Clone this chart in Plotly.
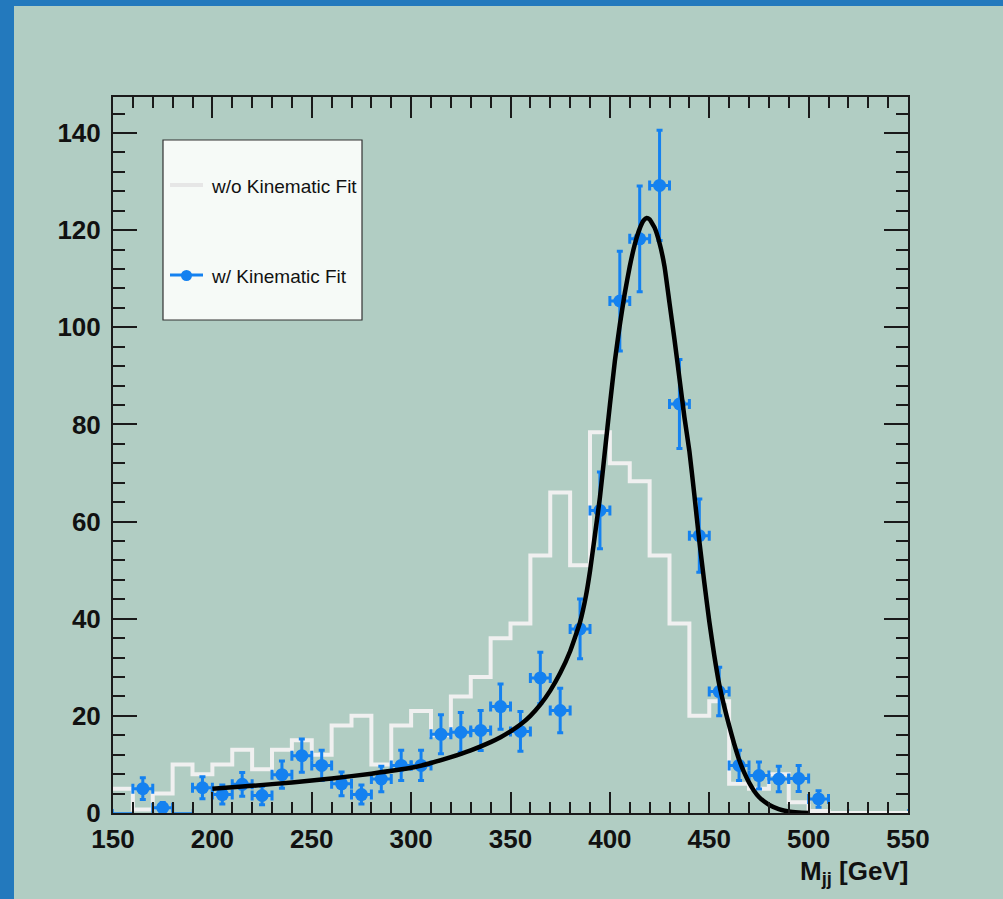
import numpy as np
import plotly.graph_objects as go

# ---- histogram binning (10 GeV bins, 150-550 GeV) ----
bin_edges = list(range(150, 560, 10))
bin_centers = [e + 5 for e in bin_edges[:-1]]

# Mjj without kinematic fit (white step histogram)
no_fit_counts = [5, 0.7, 4, 10, 8, 10, 13, 9, 13, 15,
                 12, 18, 20, 10, 18, 21, 16, 24, 28, 36,
                 39, 53, 66, 51, 78.4, 72, 68.3, 53, 39, 20,
                 23, 6, 5, 8, 2.2, 0.4, 0, 0, 0, 0]

# Mjj with kinematic fit (blue points)
with_fit_counts = [0, 5.0, 1.1, 0, 5.2, 3.8, 5.9, 3.6, 7.9, 11.8,
                   9.8, 6.0, 3.8, 7.0, 9.8, 9.8, 16.2, 16.6, 17.0, 21.9,
                   16.8, 27.8, 21.1, 37.9, 62.3, 105.4, 118.2, 129.2, 84.2, 57.1,
                   25.0, 9.8, 7.7, 7.0, 7.1, 2.9, 0, 0, 0, 0]

# fitted line shape, sampled along the curve
fit_x = [200, 220, 240, 260, 280, 300, 310, 320, 330, 340,
         345, 350, 355, 360, 365, 370, 375, 380, 385, 388,
         390, 392.5, 395, 397.5, 400, 402.5, 405, 407.5, 410, 412.5,
         415, 417, 418.5, 420, 422.5, 425, 427.5, 430, 432.5, 435,
         437.5, 440, 442.5, 445, 447.5, 450, 452.5, 455, 457.5, 460,
         462.5, 465, 467.5, 470, 472.5, 475, 477.5, 480, 485, 490,
         495, 500]
fit_y = [5.0, 5.6, 6.3, 7.1, 8.1, 9.3, 10.3, 11.5, 12.9, 14.6,
         15.6, 16.8, 18.2, 20.0, 22.3, 25.2, 28.8, 33.3, 39.3, 44.8,
         49.8, 57.3, 65.0, 74.5, 84.0, 93.0, 100.5, 107.0, 112.5, 117.0,
         120.3, 122.0, 122.5, 122.2, 120.5, 117.3, 112.5, 105.0, 97.5, 89.5,
         81.5, 74.5, 65.5, 56.0, 47.5, 39.5, 32.5, 26.5, 22.0, 18.0,
         14.3, 11.0, 8.4, 6.3, 4.6, 3.3, 2.4, 1.7, 0.8, 0.3,
         0.1, 0]

legend_labels = ["w/o Kinematic Fit", "w/ Kinematic Fit"]

BLUE = "#1481f0"
WHITE_LINE = "#f0f0f0"
PANEL = "#b1cdc3"
AXIS_COL = "#1a1a1a"
FONT = "Liberation Sans, Arial, sans-serif"

fig = go.Figure()

cx = np.array(bin_centers, dtype=float)
cy = np.array(with_fit_counts, dtype=float)
filled = cy > 0

# empty bins: bin-width bars at zero, mostly hidden under the axis / histogram line
fig.add_trace(go.Scatter(x=cx[~filled], y=cy[~filled], mode="markers",
                         marker=dict(color="rgba(0,0,0,0)", size=1),
                         error_x=dict(type="constant", value=5, color=BLUE,
                                      thickness=1.5, width=4),
                         hoverinfo="skip", showlegend=False, cliponaxis=False))

# step histogram: each bin drawn flat across its width
step_x = bin_edges[:-1] + [bin_edges[-1]]
step_y = no_fit_counts + [no_fit_counts[-1]]
fig.add_trace(go.Scatter(x=step_x, y=step_y, mode="lines",
                         line=dict(color=WHITE_LINE, width=4, shape="hv"),
                         hoverinfo="skip", showlegend=False))

# filled bins: Poisson errors
fig.add_trace(go.Scatter(x=cx[filled], y=cy[filled], mode="markers",
                         marker=dict(color=BLUE, size=13, symbol="circle"),
                         error_y=dict(type="data", array=np.sqrt(cy[filled]),
                                      color=BLUE, thickness=3, width=3),
                         error_x=dict(type="constant", value=5, color=BLUE,
                                      thickness=3, width=5),
                         showlegend=False))

fig.add_trace(go.Scatter(x=fit_x, y=fit_y, mode="lines",
                         line=dict(color="black", width=4.5, shape="spline", smoothing=0.4),
                         hoverinfo="skip", showlegend=False))

# plot area: x 113..908, y 97..813 px
ML, MR, MT, MB = 113, 95, 97, 86
PW = 1003 - ML - MR
PH = 899 - MT - MB


def px(xp):
    return (xp - ML) / PW


def py(yp):
    return (899 - MB - yp) / PH


shapes = [
    # light panel over the blue page
    dict(type="rect", xref="paper", yref="paper", x0=px(14), x1=px(1010),
         y0=py(910), y1=py(6), fillcolor=PANEL, line=dict(width=0), layer="below"),
    # legend box
    dict(type="rect", xref="paper", yref="paper", x0=px(163), x1=px(362),
         y0=py(320), y1=py(140), fillcolor="#f6faf7",
         line=dict(color="#333333", width=1.2), layer="above"),
    dict(type="line", xref="paper", yref="paper", x0=px(170), x1=px(203),
         y0=py(185), y1=py(185), line=dict(color="#e6e6e6", width=4)),
    dict(type="line", xref="paper", yref="paper", x0=px(170), x1=px(203),
         y0=py(275), y1=py(275), line=dict(color=BLUE, width=3)),
    dict(type="circle", xref="paper", yref="paper", x0=px(181), x1=px(192),
         y0=py(281), y1=py(270), fillcolor=BLUE, line=dict(width=0)),
]

annotations = [
    dict(text=legend_labels[0], xref="paper", yref="paper", x=px(209), y=py(186),
         xanchor="left", yanchor="middle", showarrow=False,
         font=dict(family=FONT, size=19, color="#111111")),
    dict(text=legend_labels[1], xref="paper", yref="paper", x=px(209), y=py(276),
         xanchor="left", yanchor="middle", showarrow=False,
         font=dict(family=FONT, size=19, color="#111111")),
    dict(text="<b>M<sub>jj</sub> [GeV]</b>", xref="paper", yref="paper",
         x=px(910), y=py(854), xanchor="right", yanchor="top", showarrow=False,
         font=dict(family=FONT, size=26, color="#111111")),
]

fig.update_layout(
    width=1003, height=899,
    margin=dict(l=ML, r=MR, t=MT, b=MB, pad=0),
    paper_bgcolor="#2379bd",
    plot_bgcolor=PANEL,
    shapes=shapes,
    annotations=annotations,
    showlegend=False,
)

tick_font = dict(family=FONT, size=26, color="#111111", weight="bold")

fig.update_xaxes(
    range=[150, 550], tickmode="linear", tick0=150, dtick=50,
    ticks="inside", ticklen=21, tickwidth=1.5, tickcolor=AXIS_COL,
    minor=dict(dtick=10, ticks="inside", ticklen=11, tickwidth=1.5, tickcolor=AXIS_COL),
    showline=True, linecolor=AXIS_COL, linewidth=2, mirror="allticks",
    showgrid=False, zeroline=False, tickfont=tick_font, ticklabelstandoff=2,
)
fig.update_yaxes(
    range=[0, 147.4], tickmode="linear", tick0=0, dtick=20,
    ticks="inside", ticklen=24, tickwidth=1.5, tickcolor=AXIS_COL,
    minor=dict(dtick=4, ticks="inside", ticklen=12, tickwidth=1.5, tickcolor=AXIS_COL),
    showline=True, linecolor=AXIS_COL, linewidth=2, mirror="allticks",
    showgrid=False, zeroline=False, tickfont=tick_font, ticklabelstandoff=5,
)

fig.write_html("out.html")
